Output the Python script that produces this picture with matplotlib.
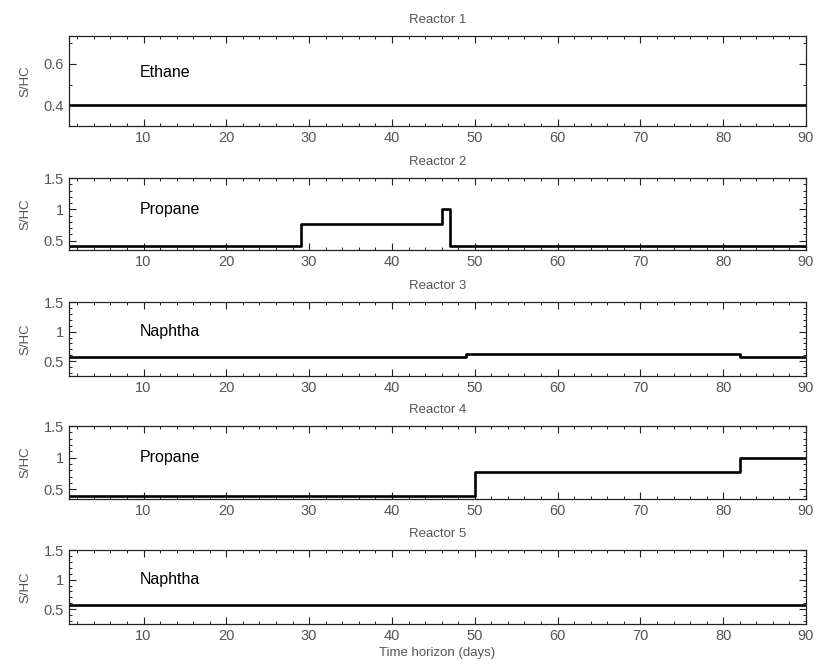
import matplotlib
matplotlib.use("Agg")
import matplotlib.pyplot as plt
from matplotlib.ticker import MultipleLocator, FuncFormatter

# Steam-to-hydrocarbon ratio schedule for each reactor (step changes by day)
reactors = ["Reactor 1", "Reactor 2", "Reactor 3", "Reactor 4", "Reactor 5"]
feeds = ["Ethane", "Propane", "Naphtha", "Propane", "Naphtha"]

r1_days = [1, 90]
r1_shc = [0.40, 0.40]

r2_days = [1, 29, 46, 47, 90]
r2_shc = [0.42, 0.76, 1.00, 0.42, 0.42]

r3_days = [1, 49, 82, 90]
r3_shc = [0.57, 0.63, 0.57, 0.57]

r4_days = [1, 50, 82, 90]
r4_shc = [0.40, 0.78, 1.00, 1.00]

r5_days = [1, 90]
r5_shc = [0.57, 0.57]

days = [r1_days, r2_days, r3_days, r4_days, r5_days]
shc = [r1_shc, r2_shc, r3_shc, r4_shc, r5_shc]

plt.rcParams["font.family"] = ["Liberation Sans", "DejaVu Sans"]

W, H = 823, 672
fig = plt.figure(figsize=(W / 100, H / 100), dpi=100)

# axes boxes in pixels: (top, bottom)
boxes = [(36, 126), (178, 250), (302, 376), (426, 499), (550, 624)]
left, right = 69, 806
ylims = [(0.3, 0.735), (0.35, 1.5), (0.25, 1.5), (0.35, 1.5), (0.25, 1.5)]

grey = "#555555"

def fmt(v, pos):
    return f"{v:g}"

for i, (top, bot) in enumerate(boxes):
    ax = fig.add_axes([left / W, 1 - bot / H, (right - left) / W, (bot - top) / H])
    ax.plot(days[i], shc[i], drawstyle="steps-post", color="black", lw=1.9)
    ax.set_xlim(1, 90)
    ax.set_ylim(*ylims[i])
    ax.xaxis.set_major_locator(MultipleLocator(10))
    ax.xaxis.set_minor_locator(MultipleLocator(2))
    if i == 0:
        ax.yaxis.set_major_locator(MultipleLocator(0.2))
        ax.yaxis.set_minor_locator(MultipleLocator(0.1))
    else:
        ax.set_yticks([0.5, 1.0, 1.5])
        ax.yaxis.set_minor_locator(MultipleLocator(0.1))
    ax.yaxis.set_major_formatter(FuncFormatter(fmt))
    ax.tick_params(which="both", direction="in", top=True, right=True,
                   labelsize=10.5, labelcolor=grey, color="#222222")
    ax.tick_params(which="major", length=5, width=0.8)
    ax.tick_params(which="minor", length=2.5, width=0.7)
    for sp in ax.spines.values():
        sp.set_linewidth(0.9)
        sp.set_color("#222222")
    ax.set_title(reactors[i], fontsize=9.5, color=grey, pad=9.5)
    ax.set_ylabel("S/HC", fontsize=9.5, color=grey, labelpad=9)
    ytxt = 0.56 if i == 0 else 1.0
    ax.text(9.5, ytxt, feeds[i], fontsize=11.5, color="black", va="center")
    if i == len(boxes) - 1:
        ax.set_xlabel("Time horizon (days)", fontsize=9.5, color=grey, labelpad=3)

fig.savefig("out.png", dpi=100, facecolor="white")
